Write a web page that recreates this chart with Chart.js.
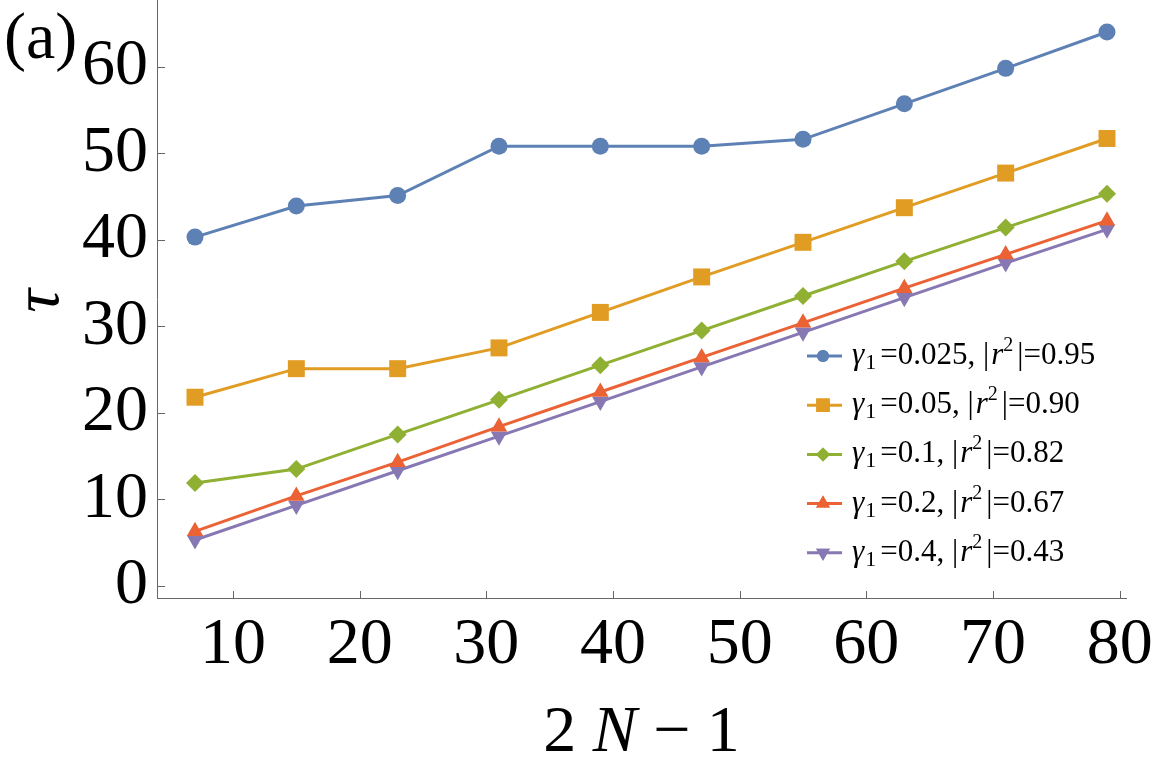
<!DOCTYPE html>
<html>
<head>
<meta charset="utf-8">
<script src="https://cdn.jsdelivr.net/npm/chart.js@4.4.1/dist/chart.umd.min.js"></script>
<style>
  html, body { margin: 0; padding: 0; background: #fff; }
  #wrap { width: 1152px; height: 768px; position: relative; }
</style>
</head>
<body>
<div id="wrap"><canvas id="tauChart"></canvas></div>
<script>
// 2N-1 values and tau
const xValues = [7, 15, 23, 31, 39, 47, 55, 63, 71, 79];
const tauG0025 = [40.3, 43.9, 45.1, 50.8, 50.8, 50.8, 51.6, 55.7, 59.8, 64.0];
const tauG005 = [21.8, 25.1, 25.1, 27.5, 31.6, 35.7, 39.7, 43.7, 47.7, 51.7];
const tauG01 = [11.9, 13.5, 17.5, 21.5, 25.5, 29.5, 33.5, 37.5, 41.4, 45.3];
const tauG02 = [6.3, 10.4, 14.3, 18.4, 22.4, 26.4, 30.4, 34.4, 38.3, 42.2];
const tauG04 = [5.3, 9.3, 13.3, 17.3, 21.3, 25.3, 29.3, 33.3, 37.3, 41.2];
const gammaLabels = ["0.025", "0.05", "0.1", "0.2", "0.4"];
const r2Labels = ["0.95", "0.90", "0.82", "0.67", "0.43"];

const serif = "'Liberation Serif', 'DejaVu Serif', serif";
const axisColor = "#666666";

const styles = [
  { color: "#5E81B5", point: "circle", radius: 8.5, rot: 0, legendRadius: 6 },
  { color: "#E19C24", point: "rect", radius: 12, rot: 0, legendRadius: 9.5 },
  { color: "#8FB032", point: "rectRot", radius: 9, rot: 0, legendRadius: 7 },
  { color: "#EB6235", point: "triangle", radius: 9.5, rot: 0, legendRadius: 8 },
  { color: "#8778B3", point: "triangle", radius: 9.5, rot: 180, legendRadius: 8 }
];
const seriesValues = [tauG0025, tauG005, tauG01, tauG02, tauG04];

function toPoints(ys) {
  return xValues.map((x, i) => ({ x: x, y: ys[i] }));
}

const datasets = seriesValues.map((vals, i) => ({
  label: "γ1=" + gammaLabels[i] + ", |r2|=" + r2Labels[i],
  data: toPoints(vals),
  borderColor: styles[i].color,
  backgroundColor: styles[i].color,
  borderWidth: 3,
  pointStyle: styles[i].point,
  pointRadius: styles[i].radius,
  pointRotation: styles[i].rot,
  pointBorderWidth: 0,
  tension: 0
}));

// draw mixed-font text pieces left to right
function richText(ctx, parts, x, y) {
  parts.forEach(p => {
    ctx.font = p.font;
    ctx.fillText(p.t, x, y + (p.dy || 0));
    x += ctx.measureText(p.t).width + (p.gap || 0);
  });
  return x;
}
function richWidth(ctx, parts) {
  let w = 0;
  parts.forEach(p => { ctx.font = p.font; w += ctx.measureText(p.t).width + (p.gap || 0); });
  return w;
}

const decor = {
  id: "decor",
  afterDraw(chart) {
    const ctx = chart.ctx;
    const xs = chart.scales.x, ys = chart.scales.y;
    const area = chart.chartArea;
    ctx.save();

    // tick marks pointing into the plot
    ctx.strokeStyle = axisColor;
    ctx.lineWidth = 1;
    ctx.beginPath();
    xs.ticks.forEach(t => {
      if (t.value <= xs.min) return;
      const px = Math.round(xs.getPixelForValue(t.value)) + 0.5;
      const len = t.value % 10 === 0 ? 7 : 4;
      ctx.moveTo(px, area.bottom);
      ctx.lineTo(px, area.bottom - len);
    });
    ys.ticks.forEach(t => {
      const py = Math.round(ys.getPixelForValue(t.value)) + 0.5;
      const len = t.value % 10 === 0 ? 8 : 4;
      ctx.moveTo(area.left, py);
      ctx.lineTo(area.left + len, py);
    });
    ctx.stroke();

    ctx.fillStyle = "#000";
    ctx.textBaseline = "alphabetic";

    // panel label
    ctx.font = "66px " + serif;
    ctx.textAlign = "left";
    ctx.fillText("(a)", 4, 58);

    // x axis title: 2 N - 1
    const big = "66px " + serif, bigIt = "italic 66px " + serif;
    const xt = [
      { t: "2 ", font: big },
      { t: "N", font: bigIt },
      { t: " \u2212 1", font: big }
    ];
    const cx = (area.left + area.right) / 2;
    richText(ctx, xt, cx - richWidth(ctx, xt) / 2, 751);

    // y axis title: tau, rotated
    ctx.save();
    ctx.translate(58, 301);
    ctx.rotate(-Math.PI / 2);
    ctx.font = bigIt;
    ctx.textAlign = "center";
    ctx.fillText("\u03C4", 0, 0);
    ctx.restore();

    // legend
    const reg = "31px " + serif, it = "italic 31px " + serif;
    const sub = "22px " + serif, sup = "20px " + serif;
    styles.forEach((s, i) => {
      const y = 356 + i * 49.2;
      ctx.strokeStyle = s.color;
      ctx.lineWidth = 3;
      ctx.beginPath();
      ctx.moveTo(807, y);
      ctx.lineTo(842, y);
      ctx.stroke();
      ctx.fillStyle = s.color;
      Chart.helpers.drawPoint(ctx, { pointStyle: s.point, radius: s.legendRadius, rotation: s.rot, borderWidth: 0 }, 823, y);
      ctx.fill();
      ctx.fillStyle = "#000";
      ctx.textAlign = "left";
      richText(ctx, [
        { t: "\u03B3", font: it, gap: 1 },
        { t: "1", font: sub, dy: 5, gap: 4 },
        { t: "=" + gammaLabels[i] + ", |", font: reg, gap: 2 },
        { t: "r", font: it, gap: 0 },
        { t: "2", font: sup, dy: -13, gap: 4 },
        { t: "|=" + r2Labels[i], font: reg }
      ], 852, y + 8);
    });

    ctx.restore();
  }
};

const tickFont = { family: serif, size: 66 };

new Chart(document.getElementById("tauChart"), {
  type: "line",
  data: { datasets: datasets },
  options: {
    responsive: true,
    maintainAspectRatio: false,
    animation: false,
    layout: { autoPadding: false, padding: { left: 0, right: 26, top: 0, bottom: 0 } },
    plugins: {
      legend: { display: false },
      tooltip: { enabled: false }
    },
    scales: {
      x: {
        type: "linear",
        min: 4,
        max: 80.5,
        grid: { display: false, drawTicks: false },
        border: { display: true, color: axisColor, width: 1 },
        ticks: {
          stepSize: 2,
          includeBounds: false,
          autoSkip: false,
          maxRotation: 0,
          padding: 8,
          color: "#000",
          font: tickFont,
          callback: v => (v % 10 === 0 ? String(v) : null)
        },
        afterFit: s => { s.height = 170; s.paddingLeft = 0; s.paddingRight = 0; }
      },
      y: {
        min: -1.4,
        max: 67.7,
        grid: { display: false, drawTicks: false },
        border: { display: true, color: axisColor, width: 1 },
        ticks: {
          stepSize: 2,
          includeBounds: false,
          autoSkip: false,
          padding: 9,
          color: "#000",
          font: tickFont,
          callback: v => (v % 10 === 0 ? String(v) : null)
        },
        afterFit: s => { s.width = 157; s.paddingTop = 0; s.paddingBottom = 0; }
      }
    }
  },
  plugins: [decor]
});
</script>
</body>
</html>
